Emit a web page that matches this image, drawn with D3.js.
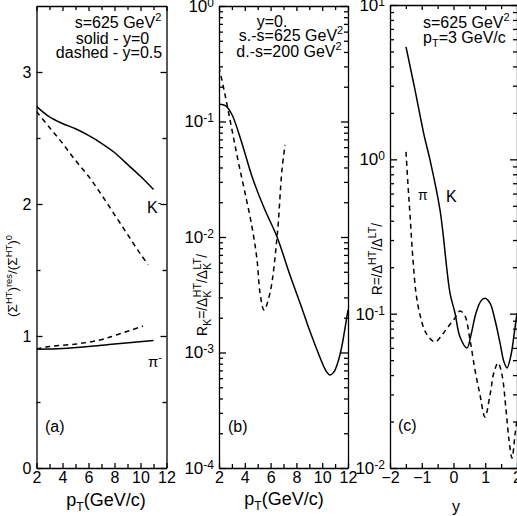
<!DOCTYPE html>
<html><head><meta charset="utf-8">
<script src="https://cdn.jsdelivr.net/npm/d3@7"></script>
<style>
body{margin:0;background:#fff}
svg{display:block}
text{font-family:"Liberation Sans",Arial,Helvetica,sans-serif;fill:#000}
</style>
</head><body>
<svg id="chart" width="517" height="516"></svg>
<script>
// ---------------- data ----------------
// Panel (a): ratio vs pT (GeV/c)
const aKSolid  = [[2,2.74],[3,2.66],[4,2.61],[5,2.57],[6,2.52],[7,2.46],[8,2.39],[9,2.30],[10,2.21],[11,2.11]];
const aKDashed = [[2,2.70],[3,2.58],[4,2.46],[5,2.33],[6,2.21],[7,2.07],[8,1.92],[9,1.77],[10,1.62],[10.6,1.54]];
const aPiSolid = [[2,0.90],[4,0.905],[6,0.92],[8,0.94],[11,0.965]];
const aPiDashed= [[2,0.90],[3,0.92],[5.1,0.94],[6.9,0.97],[8.2,1.01],[10.2,1.075]];
const aXTicks = [2,4,6,8,10,12];
const aYTicks = [0,1,2,3];

// Panel (b): R_K vs pT (log scale)
const bSolid = [[2.0,0.142],[2.5,0.137],[3.0,0.115],[3.5,0.0813],[4.0,0.0537],[4.6,0.0324],[5.5,0.0178],
  [6.5,0.0100],[7.5,0.00468],[8.5,0.00229],[9.0,0.00158],[9.6,0.00105],[10.0,0.000813],[10.3,0.000692],
  [10.6,0.000638],[10.9,0.000676],[11.2,0.000813],[11.5,0.00110],[11.75,0.00158],[12.0,0.00234]];
const bDashed = [[2.00,0.296],[2.39,0.1875],[2.78,0.1138],[3.16,0.0692],[3.55,0.0420],[4.02,0.0240],
  [4.56,0.0122],[4.95,0.00632],[5.18,0.00327],[5.49,0.00233],[5.95,0.00327],[6.50,0.0100],[6.88,0.0380],[7.12,0.0627]];
const bXTicks = [2,4,6,8,10,12];
const bYTicks = [1e-4,1e-3,1e-2,1e-1,1];

// Panel (c): R vs rapidity y (log scale)
const cKSolid = [[-1.496,5.35],[-1.213,2.82],[-0.929,1.44],[-0.740,0.991],[-0.425,0.470],[-0.110,0.136],
  [0.047,0.101],[0.205,0.0706],[0.425,0.0600],[0.551,0.0728],[0.709,0.101],[0.866,0.121],[0.992,0.126],
  [1.150,0.117],[1.307,0.0910],[1.465,0.0646],[1.591,0.0486],[1.685,0.0445],[1.811,0.0540],[1.906,0.0728],[2.000,0.101]];
const cPiDashed = [[-1.496,1.117],[-1.433,0.682],[-1.370,0.437],[-1.276,0.223],[-1.181,0.136],[-1.055,0.0982],
  [-0.866,0.0750],[-0.583,0.0656],[-0.362,0.0728],[-0.173,0.0820],[0.047,0.0938],[0.205,0.104],[0.362,0.0966],
  [0.520,0.0676],[0.677,0.0432],[0.835,0.0297],[0.992,0.0214],[1.150,0.0297],[1.276,0.0419],[1.402,0.0479],
  [1.528,0.0401],[1.654,0.0238],[1.748,0.0152],[1.843,0.0116],[1.937,0.0164],[2.000,0.0205]];
const cXTicks = [-2,-1,0,1,2];
const cYTicks = [1e-2,1e-1,1,10];

// ---------------- drawing ----------------
const svg = d3.select("#chart");
const FS = 16;

function minorLog(domain){
  const out=[]; const lo=Math.round(Math.log10(domain[0])), hi=Math.round(Math.log10(domain[1]));
  for(let e=lo;e<hi;e++) for(let m=2;m<=9;m++) out.push(m*Math.pow(10,e));
  return out;
}

function frameAxes(g, x, y, opt){
  const [x0,x1]=x.range(), [y0,y1]=y.range();
  const style = s => s.call(q=>q.selectAll("path,line").attr("stroke","#000").attr("stroke-width",1.3));
  g.append("g").attr("transform",`translate(0,${y0})`)
    .call(d3.axisBottom(x).tickValues(opt.xMajor).tickSize(-opt.majLen).tickSizeOuter(0).tickPadding(4).tickFormat(d3.format("d")))
    .call(style).call(a=>a.selectAll("text").attr("font-size",FS).attr("font-family","Liberation Sans, Arial"));
  g.append("g").attr("transform",`translate(0,${y0})`)
    .call(d3.axisBottom(x).tickValues(opt.xMinor).tickSize(-opt.minLen).tickSizeOuter(0).tickFormat(""))
    .call(style).call(a=>a.select(".domain").remove());
  g.append("g").attr("transform",`translate(0,${y1})`)
    .call(d3.axisTop(x).tickValues(opt.xMajor).tickSize(-opt.majLen).tickSizeOuter(0).tickFormat(""))
    .call(style);
  g.append("g").attr("transform",`translate(0,${y1})`)
    .call(d3.axisTop(x).tickValues(opt.xMinor).tickSize(-opt.minLen).tickSizeOuter(0).tickFormat(""))
    .call(style).call(a=>a.select(".domain").remove());
  const left = g.append("g").attr("transform",`translate(${x0},0)`)
    .call(d3.axisLeft(y).tickValues(opt.yMajor).tickSize(-opt.yMajLen).tickSizeOuter(0).tickPadding(opt.yPad)
      .tickFormat(opt.log ? (d=>String(d)) : d3.format("d")))
    .call(style);
  if(opt.log){
    left.selectAll(".tick text").each(function(d){
      const t=d3.select(this); t.text(null).attr("font-size",17);
      t.append("tspan").text("10");
      t.append("tspan").attr("dy","-0.42em").attr("font-size",12).text(String(Math.round(Math.log10(d))));
    });
  } else {
    left.selectAll(".tick text").attr("font-size",FS);
  }
  g.append("g").attr("transform",`translate(${x0},0)`)
    .call(d3.axisLeft(y).tickValues(opt.yMinor).tickSize(-opt.minLen).tickSizeOuter(0).tickFormat(""))
    .call(style).call(a=>a.select(".domain").remove());
  g.append("g").attr("transform",`translate(${x1},0)`)
    .call(d3.axisRight(y).tickValues(opt.yMajor).tickSize(-opt.yMajLen).tickSizeOuter(0).tickFormat(""))
    .call(style);
  g.append("g").attr("transform",`translate(${x1},0)`)
    .call(d3.axisRight(y).tickValues(opt.yMinor).tickSize(-opt.minLen).tickSizeOuter(0).tickFormat(""))
    .call(style).call(a=>a.select(".domain").remove());
}

function drawCurve(g, x, y, pts, dashed, clipId){
  const line = d3.line().x(d=>x(d[0])).y(d=>y(d[1])).curve(d3.curveCatmullRom.alpha(0.5));
  g.append("path").attr("d",line(pts)).attr("fill","none").attr("stroke","#000")
    .attr("stroke-width",1.5).attr("stroke-dasharray",dashed?"5,4":null)
    .attr("clip-path",`url(#${clipId})`);
}

function addClip(id, x, y){
  const [x0,x1]=x.range(), [y0,y1]=y.range();
  svg.append("clipPath").attr("id",id).append("rect")
    .attr("x",x0).attr("y",y1).attr("width",x1-x0).attr("height",y0-y1);
}

function rich(t, parts, base, small){
  let state=0;
  const up = 0.42*base, dn = 0.28*base;
  parts.forEach(([s,k,dx])=>{
    const ts=t.append("tspan").text(s);
    let target = k==="sup"?-up : k==="sub"? dn : 0;
    let cur = state===1?-up: state===-1? dn : 0;
    const dy = target-cur;
    if(dy!==0) ts.attr("dy",dy);
    if(dx) ts.attr("dx",dx);
    if(k!=="n") ts.attr("font-size",small);
    state = k==="sup"?1: k==="sub"?-1:0;
  });
}

function rotTitle(cx, cy, parts, base, small, targetLen){
  const g = svg.append("g").attr("transform",`translate(${cx},${cy}) rotate(-90)`);
  const t = g.append("text").attr("text-anchor","middle").attr("font-size",base);
  rich(t, parts, base, small);
  const w = t.node().getComputedTextLength();
  if(targetLen) t.attr("transform",`scale(${targetLen/w},1)`);
}

function label(x0, y0, parts, anchor, base, small){
  const t = svg.append("text").attr("x",x0).attr("y",y0).attr("text-anchor",anchor||"start").attr("font-size",base||FS);
  rich(t, parts, base||FS, small||11);
  return t;
}

// ----- Panel (a)
const xa = d3.scaleLinear().domain([2,12]).range([36.5,166.5]);
const ya = d3.scaleLinear().domain([0,3.5]).range([468,6]);
addClip("clipA", xa, ya);
const ga = svg.append("g");
[aKSolid,aPiSolid].forEach(p=>drawCurve(ga,xa,ya,p,false,"clipA"));
[aKDashed,aPiDashed].forEach(p=>drawCurve(ga,xa,ya,p,true,"clipA"));
frameAxes(ga, xa, ya, {xMajor:aXTicks, xMinor:[3,5,7,9,11], yMajor:aYTicks, yMinor:[0.5,1.5,2.5], majLen:5, minLen:4, yMajLen:6, yPad:5});

// ----- Panel (b)
const xb = d3.scaleLinear().domain([2,12]).range([219,348]);
const yb = d3.scaleLog().domain([1e-4,1]).range([468,6]);
addClip("clipB", xb, yb);
const gb = svg.append("g");
drawCurve(gb,xb,yb,bSolid,false,"clipB");
drawCurve(gb,xb,yb,bDashed,true,"clipB");
frameAxes(gb, xb, yb, {xMajor:bXTicks, xMinor:[3,5,7,9,11], yMajor:bYTicks, yMinor:minorLog([1e-4,1]), majLen:5, minLen:4, yMajLen:7, yPad:5, log:true});

// ----- Panel (c)
const xc = d3.scaleLinear().domain([-2,2]).range([390,517]);
const yc = d3.scaleLog().domain([1e-2,10]).range([468,5]);
addClip("clipC", xc, yc);
const gc = svg.append("g");
drawCurve(gc,xc,yc,cKSolid,false,"clipC");
drawCurve(gc,xc,yc,cPiDashed,true,"clipC");
frameAxes(gc, xc, yc, {xMajor:cXTicks, xMinor:[-1.5,-0.5,0.5,1.5], yMajor:cYTicks, yMinor:minorLog([1e-2,10]), majLen:5, minLen:4, yMajLen:7, yPad:5, log:true});

// ----- annotations
label(118, 28, [["s=625 GeV","n"],["2","sup"]], "middle");
label(112.5, 44, [["solid - y=0","n"]], "middle");
label(109, 58, [["dashed - y=0.5","n"]], "middle");
label(147, 213, [["K","n"],["-","sup"]], "start");
label(148, 367, [["π","n"],["-","sup"]], "start", 15);
label(45, 432, [["(a)","n"]], "start");

label(272, 27, [["y=0.","n"]], "middle");
label(291, 41, [["s.-s=625 GeV","n"],["2","sup"]], "middle");
label(289, 57, [["d.-s=200 GeV","n"],["2","sup"]], "middle");
label(228, 432, [["(b)","n"]], "start");

label(423, 28, [["s=625 GeV","n"],["2","sup"]], "start");
label(423, 43, [["p","n"],["T","sub"],["=3 GeV/c","n"]], "start");
label(418, 200, [["π","n"]], "start", 14);
label(446, 202, [["K","n"]], "start");
label(398, 431, [["(c)","n"]], "start");

// x-axis titles
label(106, 506, [["p","n"],["T","sub"],["(GeV/c)","n"]], "middle", 18, 12);
label(284, 505, [["p","n"],["T","sub"],["(GeV/c)","n"]], "middle", 18, 12);
label(456, 512, [["y","n"]], "middle");

// y-axis titles
rotTitle(17, 276, [["(Σ","n"],["HT","sup"],[")","n"],["res","sup"],["/(Σ","n"],["HT","sup"],[")","n"],["0","sup"]], 13, 9, 82);
rotTitle(207, 295, [["R","n"],["K","sub"],["=/Δ","n"],["K","sub"],["HT","sup",-7],["/Δ","n"],["K","sub"],["LT","sup",-7],["/","n"]], 14, 11, 96);
rotTitle(382, 259, [["R=/Δ","n"],["HT","sup"],["/Δ","n"],["LT","sup"],["/","n"]], 14, 11, 72);
</script>
</body></html>
